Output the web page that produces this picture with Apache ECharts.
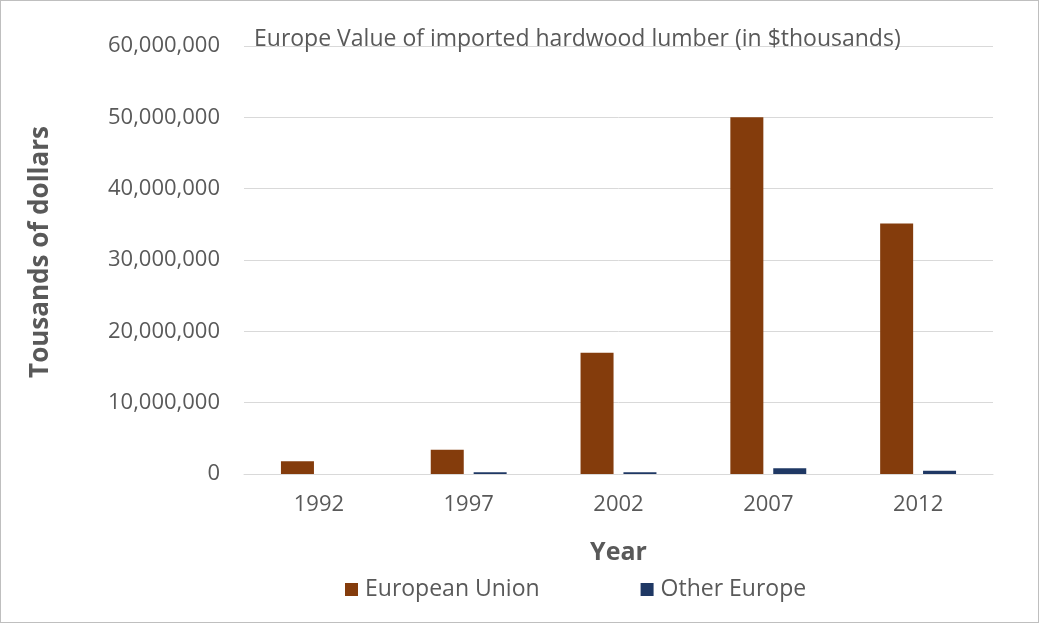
<!DOCTYPE html>
<html>
<head>
<meta charset="utf-8">
<script src="https://cdn.jsdelivr.net/npm/echarts@6/dist/echarts.min.js"></script>
<style>
  html, body { margin: 0; padding: 0; background: #fff; }
  #chart { width: 1037px; height: 621px; border: 1px solid #BFBFBF; }
</style>
</head>
<body>
<div id="chart"></div>
<script>
// data
var years = ['1992', '1997', '2002', '2007', '2012'];
var europeanUnion = [1800000, 3400000, 17000000, 50000000, 35100000];
var otherEurope = [0, 250000, 250000, 800000, 450000];
var yTicks = [0, 10000000, 20000000, 30000000, 40000000, 50000000, 60000000];

var font = 'Open Sans';
var grey = '#595959';

var myChart = echarts.init(document.getElementById('chart'));
myChart.setOption({
  animation: false,
  textStyle: { fontFamily: font },
  title: {
    text: 'Europe Value of imported hardwood lumber (in $thousands)',
    left: 248,
    top: 22,
    textStyle: { fontSize: 23, fontWeight: 'normal', color: grey, fontFamily: font }
  },
  legend: {
    bottom: 16,
    left: 339,
    itemWidth: 13,
    itemHeight: 13,
    itemGap: 101,
    icon: 'rect',
    textStyle: { fontSize: 23, color: grey, fontFamily: font, padding: [0, 0, 0, 2] },
    data: ['European Union', 'Other Europe']
  },
  grid: { left: 243, right: 45, top: 45, bottom: 148 },
  xAxis: {
    type: 'category',
    data: years,
    name: 'Year',
    nameLocation: 'middle',
    nameGap: 66,
    nameTextStyle: { fontSize: 25, fontWeight: 'bold', color: grey, fontFamily: font },
    axisTick: { show: false },
    axisLine: { lineStyle: { color: '#D9D9D9' } },
    axisLabel: { fontSize: 22, color: grey, margin: 20 }
  },
  yAxis: {
    type: 'value',
    min: yTicks[0],
    max: yTicks[yTicks.length - 1],
    interval: 10000000,
    name: 'Tousands of dollars',
    nameLocation: 'middle',
    nameGap: 190,
    nameTextStyle: { fontSize: 26, fontWeight: 'bold', color: grey, fontFamily: font, padding: [0, 0, 0, 16] },
    axisLine: { show: false },
    axisTick: { show: false },
    splitLine: { lineStyle: { color: '#D9D9D9' } },
    axisLabel: {
      fontSize: 22, color: grey, margin: 24,
      formatter: function (v) { return v.toLocaleString('en-US'); }
    }
  },
  series: [
    {
      name: 'European Union',
      type: 'bar',
      data: europeanUnion,
      barWidth: 33,
      barGap: '30%',
      itemStyle: { color: '#843C0C' }
    },
    {
      name: 'Other Europe',
      type: 'bar',
      data: otherEurope,
      barWidth: 33,
      itemStyle: { color: '#1F3864' }
    }
  ]
});
</script>
</body>
</html>
